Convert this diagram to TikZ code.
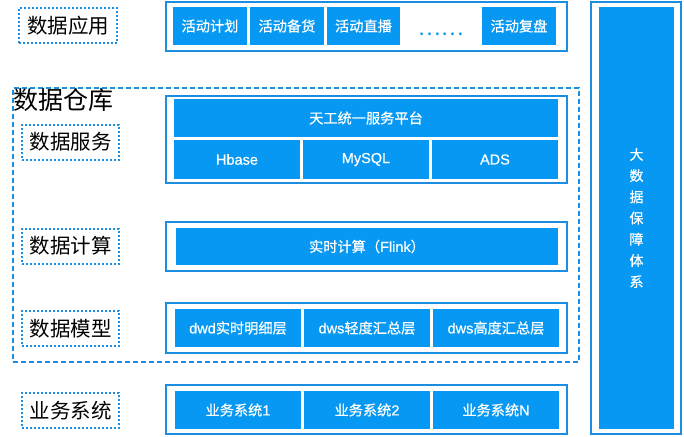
\documentclass[tikz,border=0pt]{standalone}
\usepackage{fontspec}
\setmainfont{Noto Sans CJK SC}
\newfontfamily\cellcjk{Noto Sans CJK SC}[FakeBold=0.6]
\newfontfamily\cellsans{Liberation Sans}[FakeBold=0.6]
\usepackage{xcolor}
\usepackage{tikz}
\definecolor{cellblue}{RGB}{6,152,242}
\definecolor{lineblue}{RGB}{28,142,226}
\newcommand{\lat}[1]{{\cellsans\fontsize{14.5}{16}\selectfont #1}}

\begin{document}
\begin{tikzpicture}[x=1pt, y=-1pt,
        cell/.style={fill=cellblue, text=white, inner sep=0pt, font=\cellcjk\fontsize{14.2}{16}\selectfont},
        frame/.style={draw=lineblue, line width=2pt, fill=white, inner sep=0pt},
        tag/.style={draw=lineblue, line width=2pt, dash pattern=on 2pt off 2pt, inner sep=0pt,
                    minimum width=97pt, minimum height=35pt, font=\fontsize{20.5}{22}\selectfont}]
                \useasboundingbox (0,0) rectangle (684,436);
                \node [draw=lineblue, line width=2pt, dash pattern=on 5pt off 3pt, minimum width=566pt, minimum height=274pt] (warehouse) at (296,225) {};
                \node [font=\fontsize{25}{27}\selectfont] (warehousetext) at (63,100) {数据仓库};
                \node [tag, minimum width=98pt] (apptag) at (68,26) {数据应用};
                \node [tag] (servetag) at (70.5,142) {数据服务};
                \node [tag] (computetag) at (70.5,246) {数据计算};
                \node [tag] (modeltag) at (70.5,328.5) {数据模型};
                \node [tag] (bizztag) at (70.5,410.5) {业务系统};
                \node [frame, minimum width=401pt, minimum height=49pt] (appframe) at (366,26.5) {};
                \node [cell, minimum width=74pt, minimum height=38pt] (plan) at (210,26) {活动计划};
                \node [cell, minimum width=74pt, minimum height=38pt] (stock) at (287,26) {活动备货};
                \node [cell, minimum width=73pt, minimum height=38pt] (live) at (363.5,26) {活动直播};
                \node [text=cellblue, font=\fontsize{21}{22}\selectfont] (more) at (441,34) {……};
                \node [cell, minimum width=74pt, minimum height=38pt] (review) at (519,26) {活动复盘};
                \node [frame, minimum width=401pt, minimum height=87pt] (serveframe) at (366,139.5) {};
                \node [cell, minimum width=384pt, minimum height=38pt] (platform) at (366,118) {天工统一服务平台};
                \node [cell, minimum width=126pt, minimum height=39pt] (hbase) at (237,159.5) {\lat{Hbase}};
                \node [cell, minimum width=126pt, minimum height=39pt] (mysql) at (366,159.5) {\lat{MySQL}};
                \node [cell, minimum width=126pt, minimum height=39pt] (ads) at (495,159.5) {\lat{ADS}};
                \node [frame, minimum width=401pt, minimum height=49pt] (computeframe) at (366,246.5) {};
                \node [cell, minimum width=382pt, minimum height=37pt] (flink) at (367,246.5) {实时计算（\lat{Flink}）};
                \node [frame, minimum width=401pt, minimum height=50pt] (modelframe) at (366.5,328) {};
                \node [cell, minimum width=126pt, minimum height=38pt] (dwd) at (238,328) {\lat{dwd}实时明细层};
                \node [cell, minimum width=126pt, minimum height=38pt] (dwslight) at (367,328) {\lat{dws}轻度汇总层};
                \node [cell, minimum width=126pt, minimum height=38pt] (dwsheavy) at (496,328) {\lat{dws}高度汇总层};
                \node [frame, minimum width=401pt, minimum height=49pt] (bizzframe) at (366.5,409.5) {};
                \node [cell, minimum width=126pt, minimum height=38pt] (bizzone) at (238,410) {业务系统\lat{1}};
                \node [cell, minimum width=126pt, minimum height=38pt] (bizztwo) at (367,410) {业务系统\lat{2}};
                \node [cell, minimum width=126pt, minimum height=38pt] (bizzn) at (496,410) {业务系统\lat{N}};
                \node [frame, minimum width=90pt, minimum height=432pt] (guardframe) at (636,218) {};
                \node [cell, minimum width=75pt, minimum height=422pt, align=center,
                       font=\cellcjk\fontsize{14}{21.2}\selectfont] (guard) at (636.5,218) {大\\数\\据\\保\\障\\体\\系};
            \end{tikzpicture}
\end{document}
